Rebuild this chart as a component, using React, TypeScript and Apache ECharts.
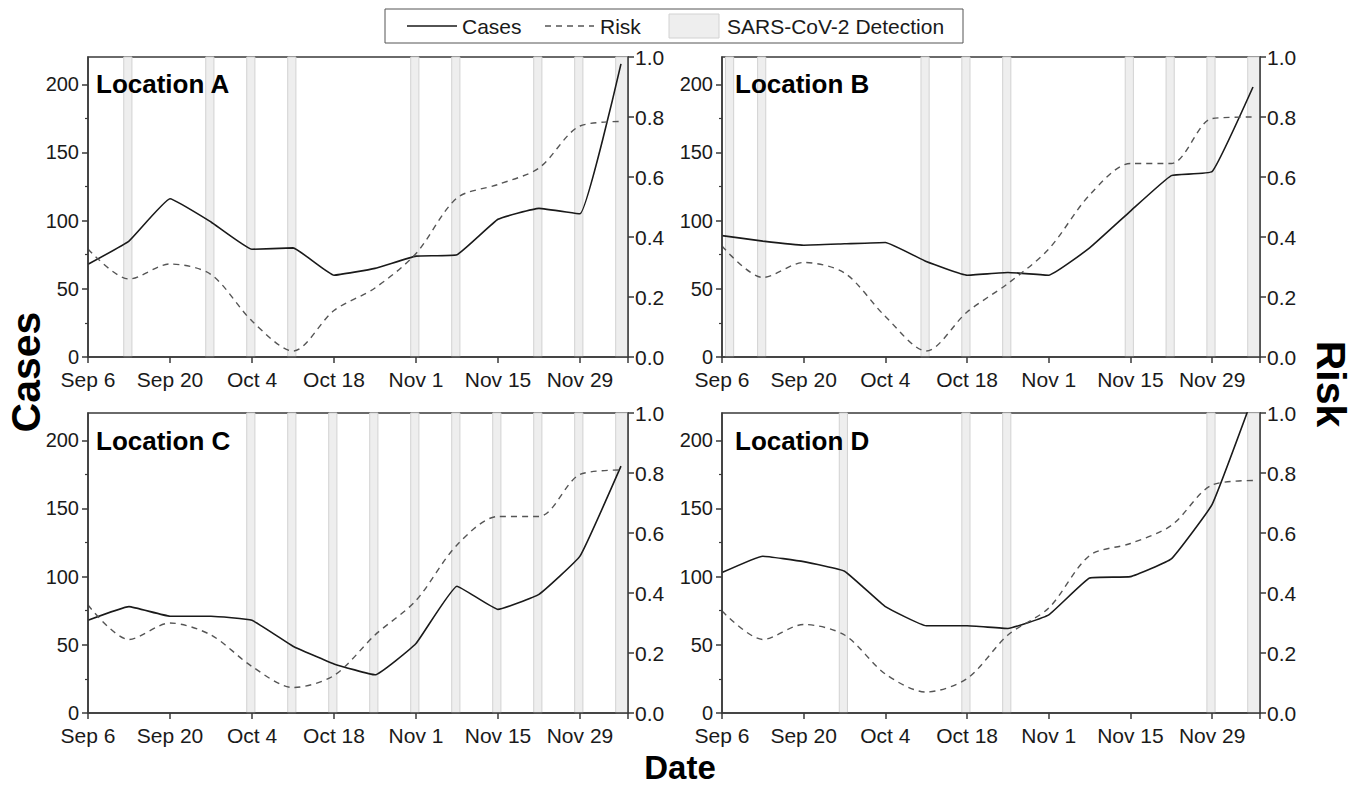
import React, { useEffect, useRef } from "react";
import * as echarts from "echarts";

// ---- data ----
const XMAX = 92.2; // days after Sep 6 at the right frame edge
const sampleDays = [0, 7, 14, 21, 28, 35, 42, 49, 56, 63, 70, 77, 84, 91];
const monthNames = ["Jan", "Feb", "Mar", "Apr", "May", "Jun", "Jul", "Aug", "Sep", "Oct", "Nov", "Dec"];

const casesA = [68, 85, 116, 99, 79, 80, 60, 65, 74, 75, 101, 109, 105, 215];
const riskA = [0.36, 0.26, 0.31, 0.275, 0.12, 0.02, 0.155, 0.23, 0.345, 0.53, 0.575, 0.63, 0.77, 0.785];
const casesB = [89, 85, 82, 83, 84, 70, 60, 62, 60, 80, 107, 133, 136, 198];
const riskB = [0.37, 0.265, 0.315, 0.28, 0.135, 0.02, 0.15, 0.245, 0.36, 0.54, 0.645, 0.645, 0.795, 0.8];
const casesC = [68, 78, 71, 71, 68, 49, 36, 28, 51, 93, 76, 87, 115, 181];
const riskC = [0.36, 0.245, 0.3, 0.26, 0.155, 0.085, 0.125, 0.26, 0.375, 0.56, 0.655, 0.655, 0.795, 0.81];
const casesD = [103, 115, 111, 104, 78, 64, 64, 62, 72, 99, 100, 113, 153, 232];
const riskD = [0.34, 0.245, 0.295, 0.26, 0.13, 0.07, 0.115, 0.26, 0.35, 0.525, 0.565, 0.625, 0.76, 0.775];

// SARS-CoV-2 detection days (days after Sep 6)
const detectA = [7, 21, 28, 35, 56, 63, 77, 84, 91];
const detectB = [1.5, 7, 35, 42, 49, 70, 77, 84, 91];
const detectC = [28, 35, 42, 49, 56, 63, 70, 77, 84, 91];
const detectD = [21, 42, 49, 84, 91];

const locationNames = ["Location A", "Location B", "Location C", "Location D"];
const caseTicks = [0, 50, 100, 150, 200];
const caseMinorTicks = [25, 75, 125, 175];

const FONT = '"Liberation Sans", Arial, Helvetica, sans-serif';
const AXIS_COLOR = "#3a3a3a";
const TICK_FONT = 20;

function fmtDay(v: number): string {
  const d = new Date(Date.UTC(2020, 8, 6 + Math.round(v)));
  return monthNames[d.getUTCMonth()] + " " + d.getUTCDate();
}

const panels = [
  { cases: casesA, risk: riskA, detect: detectA, grid: { left: 88, top: 57, width: 540, height: 300 } },
  { cases: casesB, risk: riskB, detect: detectB, grid: { left: 722, top: 57, width: 538, height: 300 } },
  { cases: casesC, risk: riskC, detect: detectC, grid: { left: 88, top: 413, width: 540, height: 300 } },
  { cases: casesD, risk: riskD, detect: detectD, grid: { left: 722, top: 413, width: 538, height: 300 } },
];

function buildOption() {
  const grid: any[] = [];
  const xAxis: any[] = [];
  const yAxis: any[] = [];
  const series: any[] = [];
  const graphic: any[] = [];

  panels.forEach((p, i) => {
    grid.push({
      ...p.grid,
      show: true,
      borderColor: AXIS_COLOR,
      borderWidth: 1.5,
      backgroundColor: "transparent",
    });
    xAxis.push({
      gridIndex: i,
      type: "value",
      min: 0,
      max: XMAX,
      interval: 14,
      z: 10,
      axisLine: { show: true, onZero: false, lineStyle: { color: AXIS_COLOR, width: 1.5 } },
      axisTick: { show: true, inside: false, length: 6, lineStyle: { color: AXIS_COLOR, width: 1.5 } },
      axisLabel: {
        fontSize: 21,
        lineHeight: 21,
        fontFamily: FONT,
        color: "#1a1a1a",
        margin: 12,
        formatter: (v: number) => (Math.abs(v % 14) < 1e-6 ? fmtDay(v) : ""),
      },
      splitLine: { show: false },
    });
    const yBase = yAxis.length;
    // left: cases
    yAxis.push({
      gridIndex: i,
      type: "value",
      position: "left",
      min: 0,
      max: 220,
      interval: 50,
      z: 10,
      axisLine: { show: true, onZero: false, lineStyle: { color: AXIS_COLOR, width: 1.5 } },
      axisTick: { show: true, inside: false, length: 6, customValues: caseTicks, lineStyle: { color: AXIS_COLOR, width: 1.5 } },
      axisLabel: {
        fontSize: TICK_FONT,
        lineHeight: 17,
        fontFamily: FONT,
        color: "#1a1a1a",
        margin: 9,
        customValues: caseTicks,
        formatter: (v: number) => (v % 50 === 0 && v <= 200 ? String(v) : ""),
      },
      splitLine: { show: false },
    });
    // right: risk
    yAxis.push({
      gridIndex: i,
      type: "value",
      position: "right",
      min: 0,
      max: 1,
      interval: 0.2,
      z: 10,
      axisLine: { show: true, onZero: false, lineStyle: { color: AXIS_COLOR, width: 1.5 } },
      axisTick: { show: true, inside: false, length: 6, lineStyle: { color: AXIS_COLOR, width: 1.5 } },
      axisLabel: {
        fontSize: 21,
        lineHeight: 17,
        fontFamily: FONT,
        color: "#1a1a1a",
        margin: 7,
        formatter: (v: number) => v.toFixed(1),
      },
      splitLine: { show: false },
    });
    // left minor ticks
    yAxis.push({
      gridIndex: i,
      type: "value",
      position: "left",
      min: 0,
      max: 220,
      interval: 25,
      z: 10,
      axisLine: { show: false },
      axisTick: { show: true, inside: false, length: 3, customValues: caseMinorTicks, lineStyle: { color: AXIS_COLOR, width: 1.2 } },
      axisLabel: { show: false },
      splitLine: { show: false },
    });

    const bands = p.detect.map((d) => [
      { xAxis: Math.max(0, d - 0.9) },
      { xAxis: d >= 90 ? XMAX : d + 0.5 },
    ]);

    series.push({
      type: "line",
      name: "band" + i,
      xAxisIndex: i,
      yAxisIndex: yBase,
      data: sampleDays.map((d, k) => [d, p.cases[k]]),
      showSymbol: false,
      symbol: "none",
      lineStyle: { width: 0, opacity: 0 },
      silent: true,
      z: 1,
      markArea: {
        silent: true,
        itemStyle: { color: "#eeeeee", borderColor: "#d2d2d2", borderWidth: 1 },
        data: bands,
      },
    });
    series.push({
      type: "line",
      name: "Cases",
      xAxisIndex: i,
      yAxisIndex: yBase,
      data: sampleDays.map((d, k) => [d, p.cases[k]]),
      showSymbol: false,
      symbol: "none",
      smooth: 0.1,
      clip: true,
      z: 3,
      lineStyle: { color: "#1a1a1a", width: 1.6, type: "solid" },
    });
    series.push({
      type: "line",
      name: "Risk",
      xAxisIndex: i,
      yAxisIndex: yBase + 1,
      data: sampleDays.map((d, k) => [d, p.risk[k]]),
      showSymbol: false,
      symbol: "none",
      smooth: 0.3,
      clip: true,
      z: 3,
      lineStyle: { color: "#555555", width: 1.4, type: [6, 5] },
    });

    graphic.push({
      type: "text",
      x: p.grid.left + (i % 2 === 0 ? 8 : 13),
      y: p.grid.top + (i < 2 ? 27 : 28),
      z: 20,
      style: {
        text: locationNames[i],
        font: "bold 26px " + FONT,
        fill: "#000",
        textAlign: "left",
        textVerticalAlign: "middle",
        align: "left",
        verticalAlign: "middle",
      },
    });
  });

  // legend box
  const ly = 26;
  graphic.push(
    { type: "rect", shape: { x: 385, y: 9, width: 578, height: 34 }, style: { fill: "#fff", stroke: "#555", lineWidth: 1 }, z: 20 },
    { type: "line", shape: { x1: 407, y1: ly, x2: 457, y2: ly }, style: { stroke: "#1a1a1a", lineWidth: 1.6 }, z: 21 },
    { type: "text", x: 462, y: ly, z: 21, style: { text: "Cases", font: "21px " + FONT, fill: "#1a1a1a", textAlign: "left", textVerticalAlign: "middle", align: "left", verticalAlign: "middle" } },
    { type: "line", shape: { x1: 545, y1: ly, x2: 594, y2: ly }, style: { stroke: "#555", lineWidth: 1.4, lineDash: [6, 5] }, z: 21 },
    { type: "text", x: 600, y: ly, z: 21, style: { text: "Risk", font: "21px " + FONT, fill: "#1a1a1a", textAlign: "left", textVerticalAlign: "middle", align: "left", verticalAlign: "middle" } },
    { type: "rect", shape: { x: 669, y: 14, width: 50, height: 24 }, style: { fill: "#eeeeee", stroke: "#d2d2d2", lineWidth: 1 }, z: 21 },
    { type: "text", x: 727, y: ly, z: 21, style: { text: "SARS-CoV-2 Detection", font: "21px " + FONT, fill: "#1a1a1a", textAlign: "left", textVerticalAlign: "middle", align: "left", verticalAlign: "middle" } },
  );

  // axis titles
  graphic.push(
    { type: "text", x: 26, y: 372, rotation: Math.PI / 2, z: 21, style: { text: "Cases", font: "bold 41px " + FONT, fill: "#000", textAlign: "center", textVerticalAlign: "middle", align: "center", verticalAlign: "middle" } },
    { type: "text", x: 1331, y: 384, rotation: -Math.PI / 2, z: 21, style: { text: "Risk", font: "bold 41px " + FONT, fill: "#000", textAlign: "center", textVerticalAlign: "middle", align: "center", verticalAlign: "middle" } },
    { type: "text", x: 680, y: 767, z: 21, style: { text: "Date", font: "bold 33px " + FONT, fill: "#000", textAlign: "center", textVerticalAlign: "middle", align: "center", verticalAlign: "middle" } },
  );

  return {
    animation: false,
    backgroundColor: "#ffffff",
    textStyle: { fontFamily: FONT },
    grid,
    xAxis,
    yAxis,
    series,
    graphic,
  };
}

export default function App() {
  const ref = useRef<HTMLDivElement>(null);
  useEffect(() => {
    if (!ref.current) return;
    const chart = echarts.init(ref.current, undefined, { renderer: "svg" });
    chart.setOption(buildOption() as any);
    return () => chart.dispose();
  }, []);
  return (
    <div
      ref={ref}
      style={{ position: "fixed", left: 0, top: 0, width: 1364, height: 786, background: "#fff" }}
    />
  );
}
